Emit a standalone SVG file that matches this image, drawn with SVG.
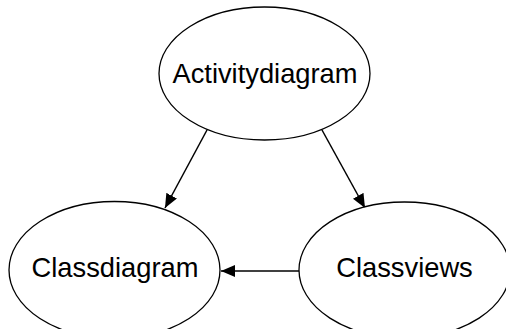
<svg xmlns="http://www.w3.org/2000/svg" width="506" height="329" viewBox="0 0 506 329">
<style>
.n ellipse{fill:#fff;stroke:#000;stroke-width:1.3}
.n text{font-family:"Liberation Sans",Arial,sans-serif;font-size:27.3px;fill:#000;text-anchor:middle}
.e line{stroke:#000;stroke-width:1.5}
</style>
<defs>
<marker id="ah" markerWidth="14" markerHeight="12" refX="14" refY="6" orient="auto" markerUnits="userSpaceOnUse">
<path d="M0,0 L14,6 L0,12 Z" fill="#000"/>
</marker>
</defs>
<rect width="506" height="329" fill="#fff"/>
<g id="edges" class="e">
<line x1="207" y1="130" x2="165" y2="208" marker-end="url(#ah)"/>
<line x1="322" y1="130" x2="365" y2="208" marker-end="url(#ah)"/>
<line x1="299" y1="271" x2="221" y2="271" marker-end="url(#ah)"/>
</g>
<g id="activitydiagram" class="n">
<ellipse cx="264.5" cy="73.5" rx="105.5" ry="66.5"/>
<text x="265" y="83">Activitydiagram</text>
</g>
<g id="classdiagram" class="n">
<ellipse cx="114.5" cy="270" rx="105.5" ry="68.5"/>
<text x="115" y="277">Classdiagram</text>
</g>
<g id="classviews" class="n">
<ellipse cx="404.5" cy="270" rx="105.5" ry="68"/>
<text x="404.5" y="277">Classviews</text>
</g>
</svg>
